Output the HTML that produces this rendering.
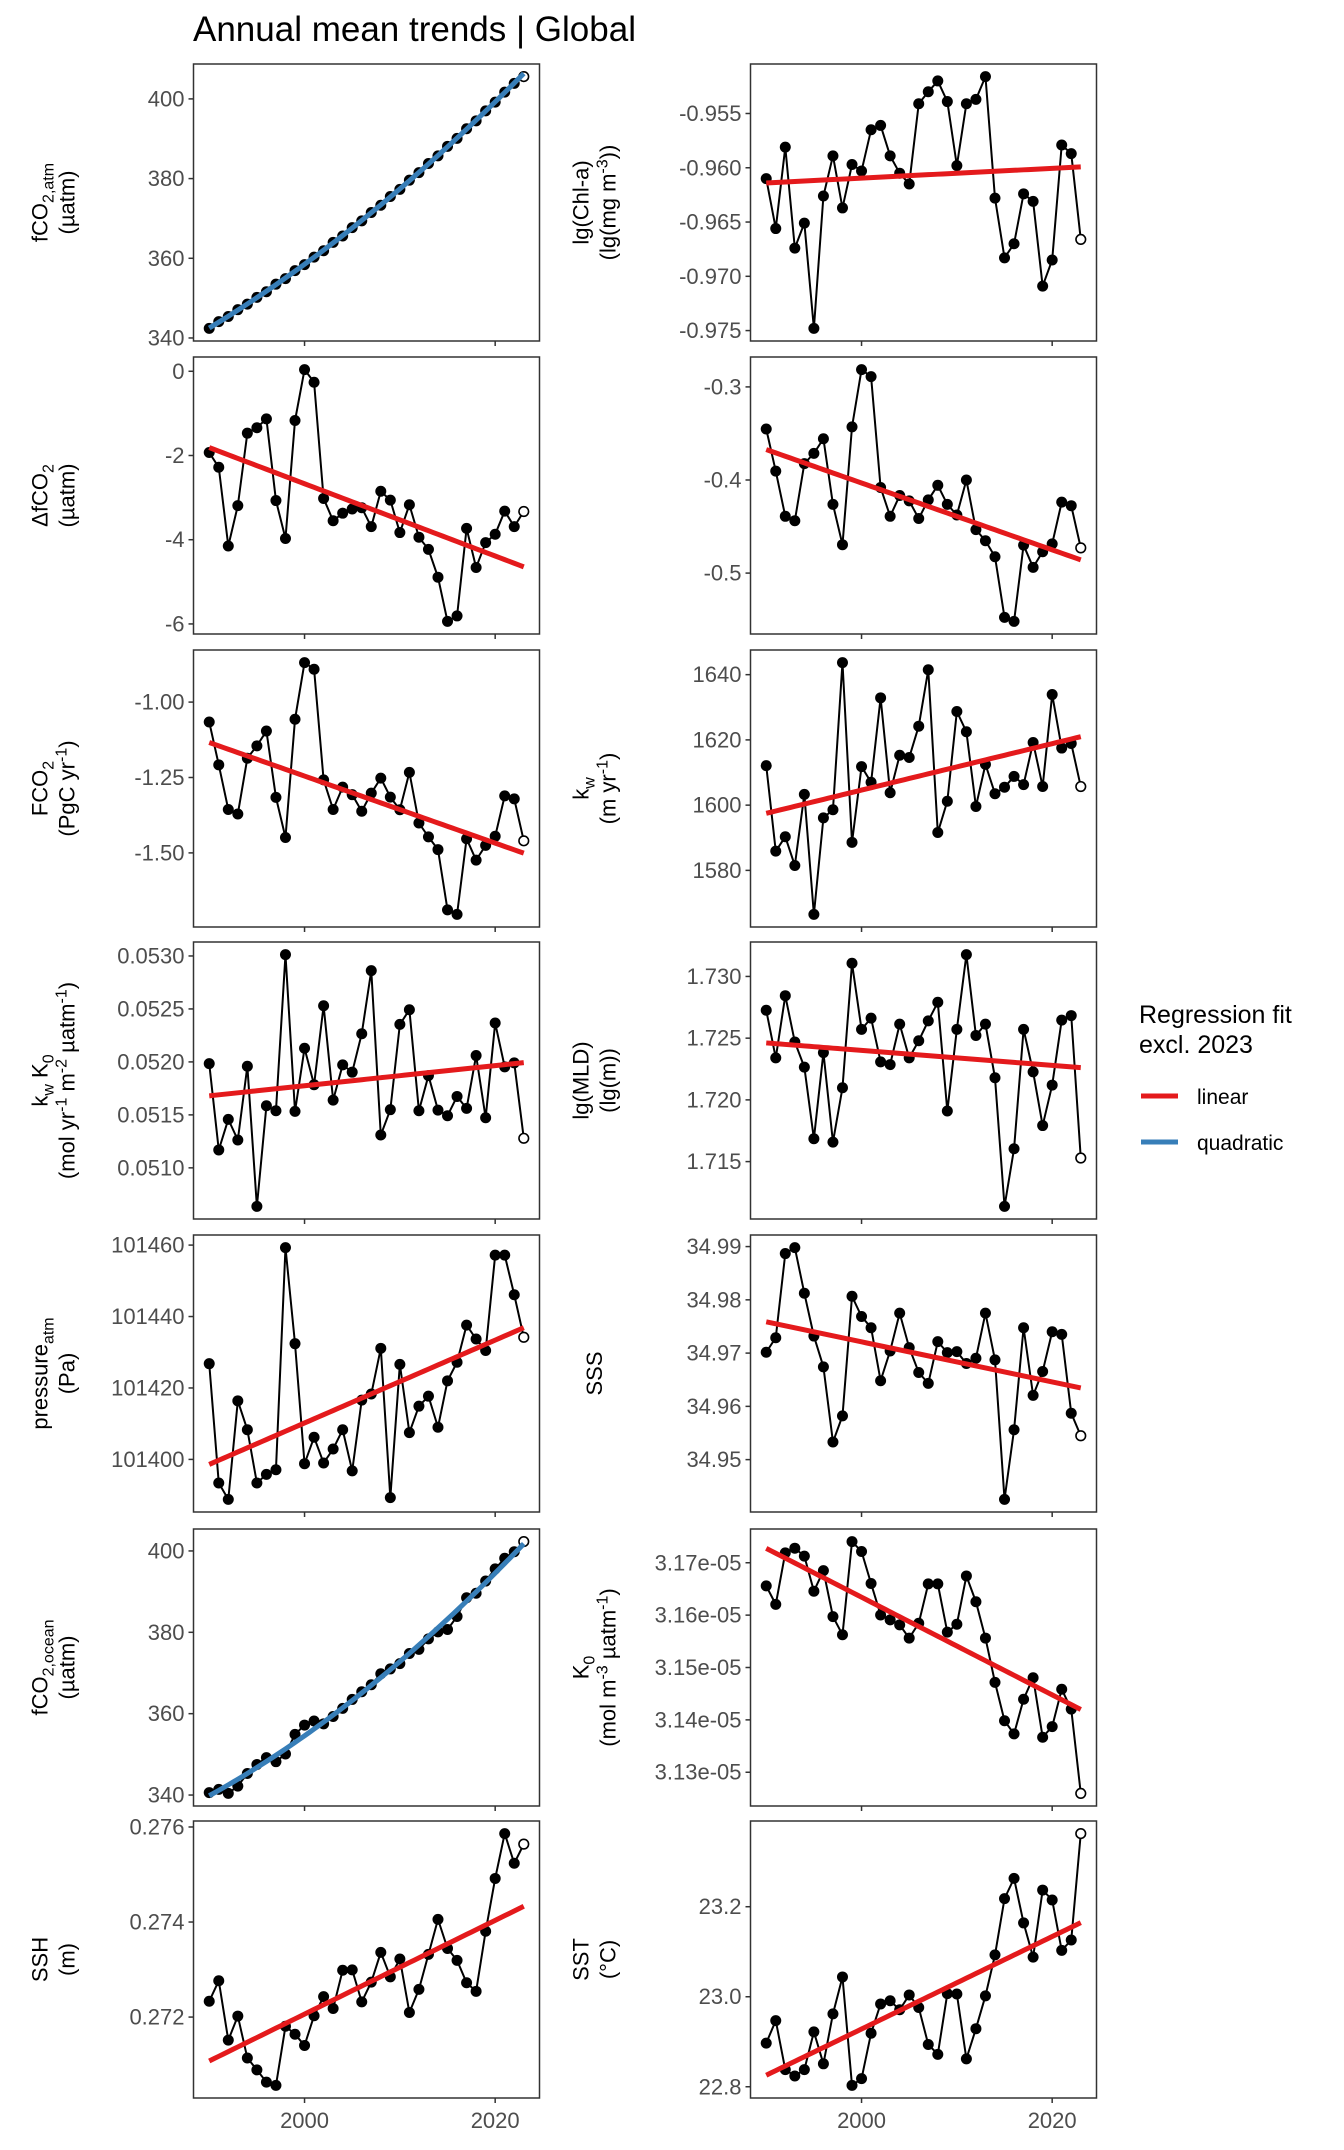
<!DOCTYPE html>
<html><head><meta charset="utf-8"><title>Annual mean trends | Global</title>
<style>
html,body{margin:0;padding:0;background:#fff;}
svg{display:block;font-family:"Liberation Sans",Arial,sans-serif;}
</style></head>
<body>
<svg id="chart" width="1344" height="2150" viewBox="0 0 1344 2150" xmlns="http://www.w3.org/2000/svg">
<rect x="0" y="0" width="1344" height="2150" fill="#fff"/>
<text x="193" y="41" font-size="35" fill="#000">Annual mean trends | Global</text>
<g>
<text x="1139" y="1023" font-size="25" fill="#000">Regression fit</text>
<text x="1139" y="1053" font-size="25" fill="#000">excl. 2023</text>
<line x1="1141" y1="1096" x2="1178" y2="1096" stroke="#e41a1c" stroke-width="5"/>
<text x="1197" y="1104" font-size="21" fill="#000">linear</text>
<line x1="1141" y1="1142" x2="1178" y2="1142" stroke="#377eb8" stroke-width="5"/>
<text x="1197" y="1150" font-size="21" fill="#000">quadratic</text>
</g>
</svg>
<script>
const years = [1990,1991,1992,1993,1994,1995,1996,1997,1998,1999,2000,2001,2002,2003,2004,2005,2006,2007,2008,2009,2010,2011,2012,2013,2014,2015,2016,2017,2018,2019,2020,2021,2022,2023];
const xTicks = [2000, 2020];
const xTickLabels = ["2000", "2020"];

const fco2Atm = [342.4,344.1,345.4,347.1,348.5,350.2,351.6,353.5,354.9,356.9,358.4,360.3,361.9,364.0,365.6,367.7,369.4,371.5,373.3,375.5,377.3,379.6,381.5,383.8,385.7,388.1,390.1,392.5,394.5,397.0,399.2,401.7,403.9,405.6];
const fco2AtmTicks = [340,360,380,400];
const fco2AtmLabels = ["340","360","380","400"];

const chl = [-0.9610,-0.9656,-0.9581,-0.9674,-0.9651,-0.9748,-0.9626,-0.9589,-0.9637,-0.9597,-0.9603,-0.9565,-0.9561,-0.9589,-0.9605,-0.9615,-0.9541,-0.9530,-0.9520,-0.9539,-0.9598,-0.9541,-0.9537,-0.9516,-0.9628,-0.9683,-0.9670,-0.9624,-0.9631,-0.9709,-0.9685,-0.9579,-0.9587,-0.9666];
const chlTicks = [-0.975,-0.970,-0.965,-0.960,-0.955];
const chlLabels = ["-0.975","-0.970","-0.965","-0.960","-0.955"];

const dfco2 = [-1.93,-2.28,-4.15,-3.19,-1.47,-1.34,-1.13,-3.07,-3.97,-1.17,0.04,-0.26,-3.02,-3.55,-3.37,-3.27,-3.24,-3.69,-2.85,-3.06,-3.83,-3.17,-3.94,-4.23,-4.89,-5.94,-5.81,-3.73,-4.66,-4.07,-3.87,-3.32,-3.69,-3.33];
const dfco2Ticks = [-6,-4,-2,0];
const dfco2Labels = ["-6","-4","-2","0"];

const dfco2Alt = [-0.3452,-0.3905,-0.4390,-0.4438,-0.3824,-0.3714,-0.3557,-0.4262,-0.4695,-0.3429,-0.2814,-0.2890,-0.4081,-0.4390,-0.4167,-0.4224,-0.4414,-0.4214,-0.4057,-0.4262,-0.4376,-0.4000,-0.4533,-0.4652,-0.4824,-0.5476,-0.5519,-0.4700,-0.4938,-0.4771,-0.4686,-0.4238,-0.4276,-0.4729];
const dfco2AltTicks = [-0.5,-0.4,-0.3];
const dfco2AltLabels = ["-0.5","-0.4","-0.3"];

const fluxCo2 = [-1.066,-1.208,-1.356,-1.371,-1.186,-1.145,-1.096,-1.316,-1.449,-1.057,-0.869,-0.891,-1.258,-1.356,-1.282,-1.307,-1.362,-1.302,-1.252,-1.315,-1.357,-1.233,-1.401,-1.447,-1.489,-1.689,-1.704,-1.453,-1.524,-1.475,-1.445,-1.311,-1.321,-1.460];
const fluxCo2Ticks = [-1.5,-1.25,-1.0];
const fluxCo2Labels = ["-1.50","-1.25","-1.00"];

const kw = [1612.1,1585.9,1590.3,1581.5,1603.3,1566.5,1596.1,1598.6,1643.7,1588.6,1611.8,1607.0,1632.9,1603.8,1615.3,1614.6,1624.2,1641.5,1591.6,1601.2,1628.7,1622.5,1599.6,1612.5,1603.5,1605.5,1608.8,1606.3,1619.2,1605.7,1633.9,1617.5,1618.9,1605.7];
const kwTicks = [1580,1600,1620,1640];
const kwLabels = ["1580","1600","1620","1640"];

const kwK0 = [0.051984,0.051169,0.051458,0.051263,0.051959,0.050636,0.051586,0.051539,0.053013,0.051533,0.052129,0.051784,0.052530,0.051639,0.051972,0.051903,0.052266,0.052862,0.051310,0.051549,0.052354,0.052492,0.051539,0.051871,0.051545,0.051492,0.051674,0.051561,0.052060,0.051473,0.052367,0.051953,0.051991,0.051279];
const kwK0Ticks = [0.0510,0.0515,0.0520,0.0525,0.0530];
const kwK0Labels = ["0.0510","0.0515","0.0520","0.0525","0.0530"];

const mld = [1.72726,1.72340,1.72844,1.72469,1.72265,1.71685,1.72383,1.71658,1.72098,1.73107,1.72571,1.72662,1.72308,1.72286,1.72614,1.72340,1.72479,1.72640,1.72791,1.71910,1.72571,1.73177,1.72522,1.72614,1.72179,1.71137,1.71604,1.72571,1.72227,1.71792,1.72120,1.72646,1.72683,1.71529];
const mldTicks = [1.715,1.720,1.725,1.730];
const mldLabels = ["1.715","1.720","1.725","1.730"];

const pressure = [101426.8,101393.4,101388.8,101416.4,101408.3,101393.4,101395.8,101397.1,101459.3,101432.4,101398.8,101406.2,101399.0,101402.9,101408.3,101396.8,101416.6,101418.3,101431.1,101389.3,101426.6,101407.5,101414.9,101417.7,101409.0,101422.0,101427.2,101437.6,101433.7,101430.5,101457.2,101457.2,101446.1,101434.2];
const pressureTicks = [101400,101420,101440,101460];
const pressureLabels = ["101400","101420","101440","101460"];

const sss = [34.97016,34.97289,34.98869,34.98981,34.98123,34.97320,34.96742,34.95330,34.95821,34.98067,34.97687,34.97476,34.96481,34.97040,34.97750,34.97103,34.96636,34.96431,34.97215,34.97009,34.97028,34.96804,34.96904,34.97750,34.96872,34.94253,34.95560,34.97476,34.96207,34.96655,34.97401,34.97351,34.95871,34.95448];
const sssTicks = [34.95,34.96,34.97,34.98,34.99];
const sssLabels = ["34.95","34.96","34.97","34.98","34.99"];

const fco2Ocean = [340.6,341.4,340.4,342.2,345.3,347.5,349.2,348.2,350.1,354.9,357.2,358.2,357.5,359.3,361.3,363.5,365.4,367.1,369.8,371.0,372.3,374.8,375.8,378.4,380.1,380.7,383.9,388.5,389.6,392.6,395.6,398.2,399.8,402.3];
const fco2OceanTicks = [340,360,380,400];
const fco2OceanLabels = ["340","360","380","400"];

const k0 = [3.16558,3.16205,3.17189,3.17278,3.17126,3.16457,3.16849,3.15972,3.15625,3.17404,3.17215,3.16603,3.16003,3.15909,3.15814,3.15562,3.15845,3.16596,3.16596,3.15675,3.15826,3.16748,3.16256,3.15562,3.14716,3.13984,3.13732,3.14394,3.14804,3.13669,3.13871,3.14584,3.14205,3.12596];
const k0Ticks = [3.13,3.14,3.15,3.16,3.17];
const k0Labels = ["3.13e-05","3.14e-05","3.15e-05","3.16e-05","3.17e-05"];

const ssh = [0.272333,0.272764,0.271514,0.272021,0.271139,0.270889,0.270632,0.270562,0.271806,0.271639,0.271403,0.272028,0.272431,0.272181,0.272986,0.272993,0.272319,0.272736,0.273361,0.272847,0.273222,0.272097,0.272583,0.273319,0.274056,0.273444,0.273194,0.272722,0.272542,0.273806,0.274917,0.275861,0.275236,0.275639];
const sshTicks = [0.272,0.274,0.276];
const sshLabels = ["0.272","0.274","0.276"];

const sst = [22.897,22.947,22.838,22.824,22.838,22.922,22.851,22.962,23.044,22.803,22.818,22.919,22.984,22.991,22.971,23.004,22.976,22.894,22.872,23.007,23.006,22.862,22.929,23.002,23.093,23.218,23.263,23.164,23.088,23.237,23.215,23.103,23.126,23.3625];
const sstTicks = [22.8,23.0,23.2];
const sstLabels = ["22.8","23.0","23.2"];

const NS = "http://www.w3.org/2000/svg";
const svg = document.getElementById('chart');
function mk(tag, attrs, parent){
  const e = document.createElementNS(NS, tag);
  for (const k in attrs) e.setAttribute(k, attrs[k]);
  (parent || svg).appendChild(e);
  return e;
}

const colX = [193.5, 750.5];
const rowY = [64, 357, 650, 942, 1235, 1529, 1821];
const PW = 346, PH = 277;

const panels = [
  {key:'fco2-atm', vals:fco2Atm, ticks:fco2AtmTicks, labels:fco2AtmLabels, fit:'quad', col:0, row:0,
   title:[[['fCO',''],['2,atm','sub']],[['(µatm)','']]]},
  {key:'chl', vals:chl, ticks:chlTicks, labels:chlLabels, fit:'lin', col:1, row:0,
   title:[[['lg(Chl-a)','']],[['(lg(mg m',''],['-3','sup'],['))','']]]},
  {key:'dfco2', vals:dfco2, ticks:dfco2Ticks, labels:dfco2Labels, fit:'lin', col:0, row:1,
   title:[[['ΔfCO',''],['2','sub']],[['(µatm)','']]]},
  {key:'dfco2-alt', vals:dfco2Alt, ticks:dfco2AltTicks, labels:dfco2AltLabels, fit:'lin', col:1, row:1, title:null},
  {key:'fco2-flux', vals:fluxCo2, ticks:fluxCo2Ticks, labels:fluxCo2Labels, fit:'lin', col:0, row:2,
   title:[[['FCO',''],['2','sub']],[['(PgC yr',''],['-1','sup'],[')','']]]},
  {key:'kw', vals:kw, ticks:kwTicks, labels:kwLabels, fit:'lin', col:1, row:2,
   title:[[['k',''],['w','sub']],[['(m yr',''],['-1','sup'],[')','']]]},
  {key:'kw-k0', vals:kwK0, ticks:kwK0Ticks, labels:kwK0Labels, fit:'lin', col:0, row:3,
   title:[[['k',''],['w','sub'],[' K',''],['0','sub']],[['(mol yr',''],['-1','sup'],[' m',''],['-2','sup'],[' µatm',''],['-1','sup'],[')','']]]},
  {key:'mld', vals:mld, ticks:mldTicks, labels:mldLabels, fit:'lin', col:1, row:3,
   title:[[['lg(MLD)','']],[['(lg(m))','']]]},
  {key:'pressure', vals:pressure, ticks:pressureTicks, labels:pressureLabels, fit:'lin', col:0, row:4,
   title:[[['pressure',''],['atm','sub']],[['(Pa)','']]]},
  {key:'sss', vals:sss, ticks:sssTicks, labels:sssLabels, fit:'lin', col:1, row:4,
   title:[[['SSS','']]]},
  {key:'fco2-ocean', vals:fco2Ocean, ticks:fco2OceanTicks, labels:fco2OceanLabels, fit:'quad', col:0, row:5,
   title:[[['fCO',''],['2,ocean','sub']],[['(µatm)','']]]},
  {key:'k0', vals:k0, ticks:k0Ticks, labels:k0Labels, fit:'lin', col:1, row:5,
   title:[[['K',''],['0','sub']],[['(mol m',''],['-3','sup'],[' µatm',''],['-1','sup'],[')','']]]},
  {key:'ssh', vals:ssh, ticks:sshTicks, labels:sshLabels, fit:'lin', col:0, row:6,
   title:[[['SSH','']],[['(m)','']]]},
  {key:'sst', vals:sst, ticks:sstTicks, labels:sstLabels, fit:'lin', col:1, row:6,
   title:[[['SST','']],[['(°C)','']]]}
];

function fitCoefs(xs, ys, deg){
  const n = deg + 1;
  const A = [], b = [];
  for (let i=0;i<n;i++){ A.push(new Array(n).fill(0)); b.push(0); }
  for (let k=0;k<xs.length;k++){
    for (let i=0;i<n;i++){
      b[i] += Math.pow(xs[k], i) * ys[k];
      for (let j=0;j<n;j++) A[i][j] += Math.pow(xs[k], i+j);
    }
  }
  for (let i=0;i<n;i++){
    let p = i;
    for (let r=i+1;r<n;r++) if (Math.abs(A[r][i])>Math.abs(A[p][i])) p=r;
    [A[i],A[p]]=[A[p],A[i]]; [b[i],b[p]]=[b[p],b[i]];
    for (let r=0;r<n;r++){ if (r===i) continue; const f=A[r][i]/A[i][i];
      for (let c=i;c<n;c++) A[r][c]-=f*A[i][c]; b[r]-=f*b[i]; }
  }
  return b.map((v,i)=>v/A[i][i]);
}

const xMin = years[0], xMax = years[years.length-1];
const xPad = (xMax - xMin) * 0.05;

panels.forEach(p => {
  const px = colX[p.col], py = rowY[p.row];
  const g = mk('g', {});
  
  
  const vmin = Math.min(...p.vals), vmax = Math.max(...p.vals);
  const vpad = (vmax - vmin) * 0.05;
  const y0 = vmin - vpad, y1 = vmax + vpad;
  const xs = yr => px + (yr - (xMin - xPad)) / ((xMax + xPad) - (xMin - xPad)) * PW;
  const ys = v => py + PH - (v - y0) / (y1 - y0) * PH;

  p.ticks.forEach((t, i) => {
    const yy = ys(t);
    const tk = mk('line', {x1:px-5, y1:yy, x2:px, y2:yy, stroke:'#333', 'stroke-width':1.5}, g);
    
    
    const lb = mk('text', {x:px-9, y:yy+7.5, 'text-anchor':'end', 'font-size':22, fill:'#4d4d4d'}, g);
    
    
    lb.textContent = p.labels[i];
  });

  xTicks.forEach((t, i) => {
    const xx = xs(t);
    const tk = mk('line', {x1:xx, y1:py+PH, x2:xx, y2:py+PH+5, stroke:'#333', 'stroke-width':1.5}, g);
    
    
    if (p.row === 6){
      const lb = mk('text', {x:xx, y:py+PH+30, 'text-anchor':'middle', 'font-size':22, fill:'#4d4d4d'}, g);
      
      
      lb.textContent = xTickLabels[i];
    }
  });

  const fx = [], fy = [];
  for (let i=0;i<years.length-1;i++){ fx.push(years[i]-2006.5); fy.push(p.vals[i]); }
  const deg = p.fit === 'quad' ? 2 : 1;
  const c = fitCoefs(fx, fy, deg);
  let d = '';
  for (let yr = xMin; yr <= xMax + 0.001; yr += 0.5){
    const t = yr - 2006.5;
    let v = 0; c.forEach((cc,k)=>{ v += cc*Math.pow(t,k); });
    d += (d ? 'L' : 'M') + xs(yr).toFixed(2) + ',' + ys(v).toFixed(2);
  }

  let dl = '';
  p.vals.forEach((v,i)=>{ dl += (i ? 'L' : 'M') + xs(years[i]).toFixed(2) + ',' + ys(v).toFixed(2); });
  const line = mk('path', {d:dl, fill:'none', stroke:'#000', 'stroke-width':2}, g);
  
  

  p.vals.forEach((v,i)=>{
    const last = i === p.vals.length - 1;
    const pt = mk('circle', {cx:xs(years[i]), cy:ys(v), r: last ? 4.8 : 5.5,
      fill: last ? '#fff' : '#000', stroke:'#000', 'stroke-width': last ? 1.6 : 0}, g);
    
    
  });

  const fit = mk('path', {d:d, fill:'none', stroke: p.fit==='quad' ? '#377eb8' : '#e41a1c', 'stroke-width':5}, g);
  
  

  const fr = mk('rect', {x:px, y:py, width:PW, height:PH, fill:'none', stroke:'#333', 'stroke-width':1.5}, g);
  
  

  if (p.title){
    const nl = p.title.length;
    const cx = p.col === 0 ? 53 : 594;
    const cy = py + PH/2;
    const lineGap = 27;
    p.title.forEach((ln, li) => {
      const off = (li - (nl-1)/2) * lineGap;
      const tx = mk('text', {transform:'translate(' + (cx + off + 8) + ',' + cy + ') rotate(-90)',
        'text-anchor':'middle', 'font-size':22, fill:'#000'}, g);
      
      
      ln.forEach(seg => {
        const ts = mk('tspan', {}, tx);
        if (seg[1] === 'sub'){ ts.setAttribute('font-size', 16); ts.setAttribute('dy', 6); }
        if (seg[1] === 'sup'){ ts.setAttribute('font-size', 16); ts.setAttribute('dy', -8); }
        ts.textContent = seg[0];
        if (seg[1]){
          const back = mk('tspan', {dy: seg[1]==='sub' ? -6 : 8}, tx);
          back.textContent = '\u200b';
        }
      });
    });
  }
});
</script>
</body></html>
